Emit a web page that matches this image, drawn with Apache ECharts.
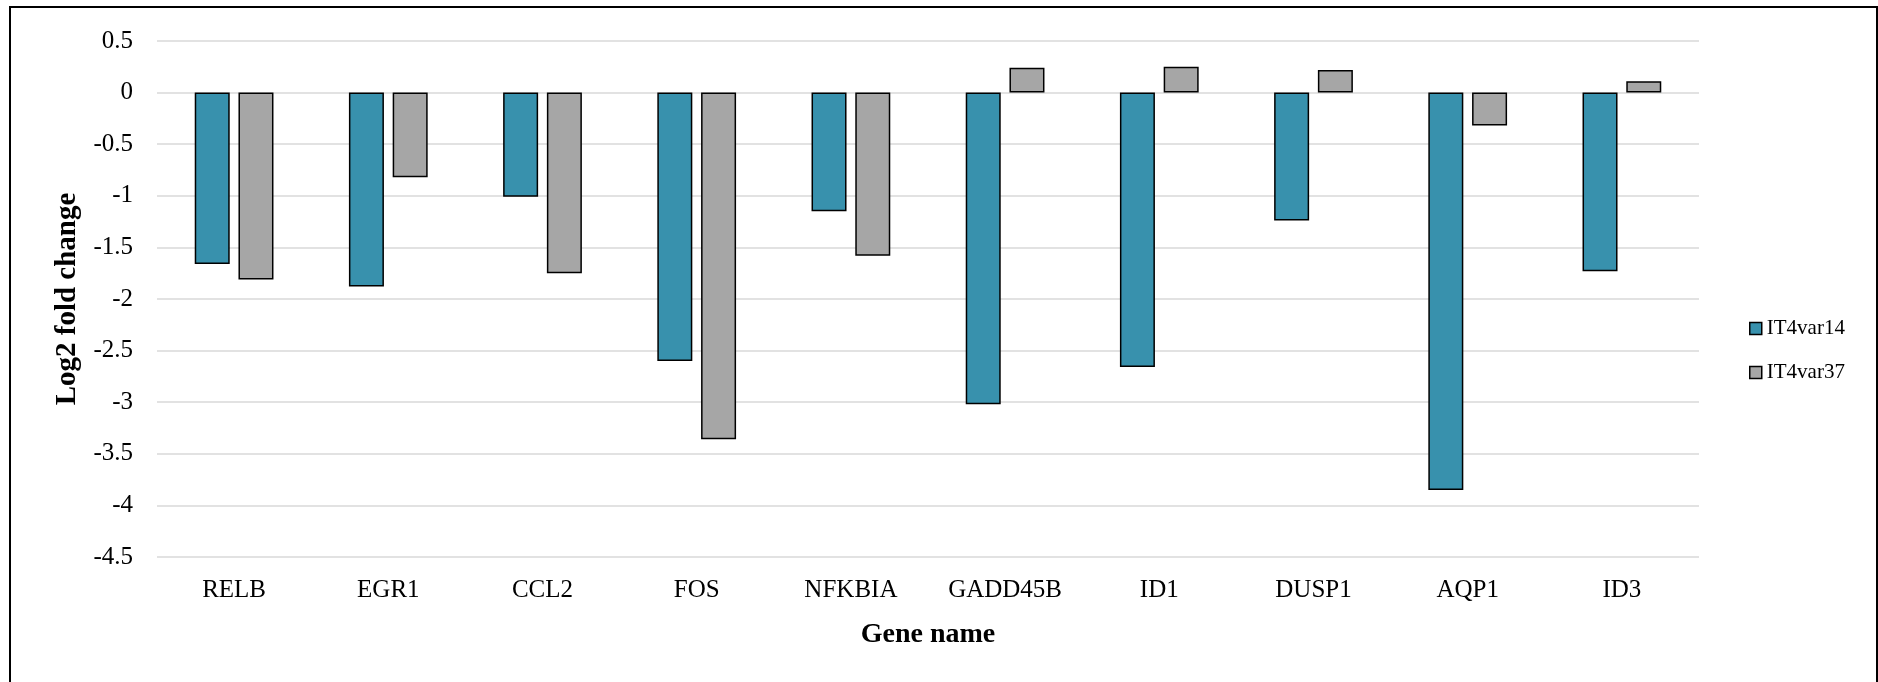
<!DOCTYPE html>
<html>
<head>
<meta charset="utf-8">
<title>Log2 fold change</title>
<script src="https://cdn.jsdelivr.net/npm/echarts@6/dist/echarts.min.js"></script>
<style>
    html,body{margin:0;padding:0;background:#fff;}
    #chart01{width:1878px;height:682px;}
</style>
</head>
<body>
<div id="chart01"></div>
<script>
// 基因名称
var genes = ['RELB','EGR1','CCL2','FOS','NFKBIA','GADD45B','ID1','DUSP1','AQP1','ID3'];
var seriesNames = ['IT4var14','IT4var37'];
var var14Data = [-1.66,-1.88,-1.01,-2.60,-1.15,-3.02,-2.66,-1.24,-3.85,-1.73];
var var37Data = [-1.81,-0.82,-1.75,-3.36,-1.58,0.24,0.25,0.22,-0.32,0.11];
var colors = ['#3891ad','#a6a6a6'];
var font = '"Liberation Serif","Times New Roman",serif';

var myChart = echarts.init(document.getElementById('chart01'));
var option = {
    backgroundColor:'#fff',
    color:colors,
    textStyle:{fontFamily:font},
    graphic:[{
        type:'rect',
        shape:{x:10,y:7,width:1867,height:700},
        style:{fill:'none',stroke:'#000',lineWidth:2},
        silent:true
    }],
    legend:{
        orient:'vertical',
        left:1744,
        top:313,
        itemWidth:12,
        itemHeight:12,
        itemGap:23,
        icon:'rect',
        itemStyle:{borderColor:'#000',borderWidth:1.5},
        textStyle:{fontFamily:font,fontSize:21,color:'#000'},
        data:seriesNames
    },
    grid:{left:157,right:179,top:41,bottom:125},
    xAxis:{
        type:'category',
        data:genes,
        name:'Gene name',
        nameLocation:'middle',
        nameGap:64,
        nameTextStyle:{fontFamily:font,fontSize:28,fontWeight:'bold',color:'#000'},
        axisLine:{show:false,onZero:false},
        axisTick:{show:false},
        axisLabel:{fontFamily:font,fontSize:25,color:'#000',margin:21}
    },
    yAxis:{
        type:'value',
        min:-4.5,
        max:0.5,
        interval:0.5,
        name:'Log2 fold change',
        nameLocation:'middle',
        nameGap:75,
        nameTextStyle:{fontFamily:font,fontSize:29,fontWeight:'bold',color:'#000'},
        axisLine:{show:false},
        axisTick:{show:false},
        axisLabel:{fontFamily:font,fontSize:25,color:'#000',margin:24},
        splitLine:{lineStyle:{color:'#d9d9d9',width:1.5}}
    },
    series:[{
        name:seriesNames[0],
        type:'bar',
        barWidth:35,
        barGap:'25%',
        itemStyle:{borderColor:'#000',borderWidth:1.5},
        data:var14Data
    },{
        name:seriesNames[1],
        type:'bar',
        barWidth:35,
        barGap:'25%',
        itemStyle:{borderColor:'#000',borderWidth:1.5},
        data:var37Data
    }]
};
myChart.setOption(option);
</script>
</body>
</html>
